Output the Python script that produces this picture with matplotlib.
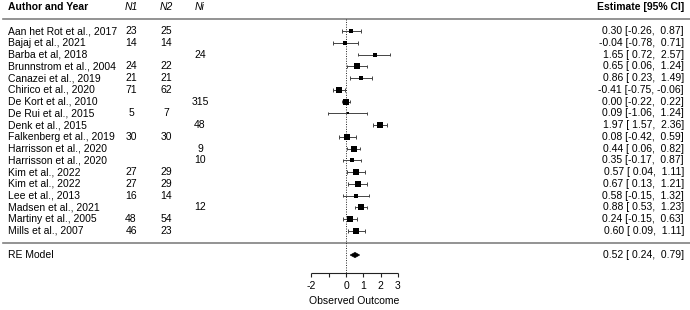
import matplotlib.pyplot as plt
from matplotlib.transforms import blended_transform_factory

plt.rcParams['font.family'] = ['Liberation Sans', 'DejaVu Sans']
plt.rcParams['font.size'] = 7.5

authors = ["Aan het Rot et al., 2017", "Bajaj et al., 2021", "Barba et al, 2018",
           "Brunnstrom et al., 2004", "Canazei et al., 2019", "Chirico et al., 2020",
           "De Kort et al., 2010", "De Rui et al., 2015", "Denk et al., 2015",
           "Falkenberg et al., 2019", "Harrisson et al., 2020", "Harrisson et al., 2020",
           "Kim et al., 2022", "Kim et al., 2022", "Lee et al., 2013",
           "Madsen et al., 2021", "Martiny et al., 2005", "Mills et al., 2007"]
n1 = ["23", "14", "", "24", "21", "71", "", "5", "", "30", "", "", "27", "27", "16", "", "48", "46"]
n2 = ["25", "14", "", "22", "21", "62", "", "7", "", "30", "", "", "29", "29", "14", "", "54", "23"]
ni = ["", "", "24", "", "", "", "315", "", "48", "", "9", "10", "", "", "", "12", "", ""]
est = [0.30, -0.04, 1.65, 0.65, 0.86, -0.41, 0.00, 0.09, 1.97, 0.08, 0.44, 0.35, 0.57, 0.67, 0.58, 0.88, 0.24, 0.60]
lo = [-0.26, -0.78, 0.72, 0.06, 0.23, -0.75, -0.22, -1.06, 1.57, -0.42, 0.06, -0.17, 0.04, 0.13, -0.15, 0.53, -0.15, 0.09]
hi = [0.87, 0.71, 2.57, 1.24, 1.49, -0.06, 0.22, 1.24, 2.36, 0.59, 0.82, 0.87, 1.11, 1.21, 1.32, 1.23, 0.63, 1.11]
# relative box size (study weight)
weight = [5.0, 4.3, 3.3, 5.3, 5.0, 6.0, 6.7, 1.7, 6.7, 5.3, 6.0, 5.0, 5.3, 5.7, 4.3, 6.0, 5.7, 5.3]
re_est, re_lo, re_hi = 0.52, 0.24, 0.79
ticks = [-2, -1, 0, 1, 2, 3]
tick_labels = ["-2", "", "0", "1", "2", "3"]

W, H = 690, 310
x0, xs = 346, 17.3      # pixel of 0 and pixels per unit
y0, ys = 31, 11.76      # pixel of row 1 and pixels per row

fig = plt.figure(figsize=(W / 100, H / 100), dpi=100)
ax = fig.add_axes([0, 0, 1, 1])
ax.set_xlim(-x0 / xs, (W - x0) / xs)
ax.set_ylim(1 + (H - y0) / ys, 1 - y0 / ys)
ax.axis('off')
tr = blended_transform_factory(fig.transFigure, ax.transData)

rows = list(range(1, len(authors) + 1))
k = len(authors)
line_col = '#808080'
ink = '#222222'

# header
hy = 1 + (7 - y0) / ys
ax.text(8 / W, hy, "Author and Year", transform=tr, weight='bold', va='center')
for xp, lab in [(131, "N1"), (166, "N2"), (200, "Ni")]:
    ax.text(xp / W, hy, lab, transform=tr, style='italic', ha='center', va='center')
ax.text(684 / W, hy, "Estimate [95% CI]", transform=tr, weight='bold', ha='right', va='center')
ax.plot([3 / W, 1], [0, 0], transform=tr, color=line_col, lw=1.2)
ax.plot([3 / W, 1], [k + 1, k + 1], transform=tr, color=line_col, lw=1.2)

axis_y = k + 3.55
ax.vlines(0, 0, axis_y, colors=ink, linestyles=(0, (1, 1.5)), lw=0.7)

for r, a, a1, a2, a3, e, l, h, w in zip(rows, authors, n1, n2, ni, est, lo, hi, weight):
    ax.text(8 / W, r, a, transform=tr, va='center')
    ax.text(131 / W, r, a1, transform=tr, ha='center', va='center')
    ax.text(166 / W, r, a2, transform=tr, ha='center', va='center')
    ax.text(200 / W, r, a3, transform=tr, ha='center', va='center')
    ax.text(684 / W, r, f"{e:.2f} [{l:5.2f}, {h:5.2f}]", transform=tr, ha='right', va='center')
    ax.hlines(r, l, h, colors='#444444', lw=0.7)
    ax.vlines([l, h], r - 0.15, r + 0.15, colors='#444444', lw=0.7)
    ax.scatter([e], [r], marker='s', s=(w * 0.72) ** 2, color='black', linewidths=0, zorder=3)

# summary
ry = k + 2.05
ax.text(8 / W, ry, "RE Model", transform=tr, va='center')
ax.fill([re_lo, re_est, re_hi, re_est], [ry, ry - 0.22, ry, ry + 0.22], color='black', lw=0.5)
ax.text(684 / W, ry, f"{re_est:.2f} [{re_lo:5.2f}, {re_hi:5.2f}]", transform=tr, ha='right', va='center')

# x axis
ax.hlines(axis_y, ticks[0], ticks[-1], colors=ink, lw=0.8)
ax.vlines(ticks, axis_y, axis_y + 4 / ys, colors=ink, lw=0.8)
for t, tl in zip(ticks, tick_labels):
    ax.text(t, axis_y + 1.15, tl, ha='center', va='center')
ax.text((ticks[0] + ticks[-1]) / 2, axis_y + 2.45, "Observed Outcome", ha='center', va='center')

fig.savefig("out.png", dpi=100)
